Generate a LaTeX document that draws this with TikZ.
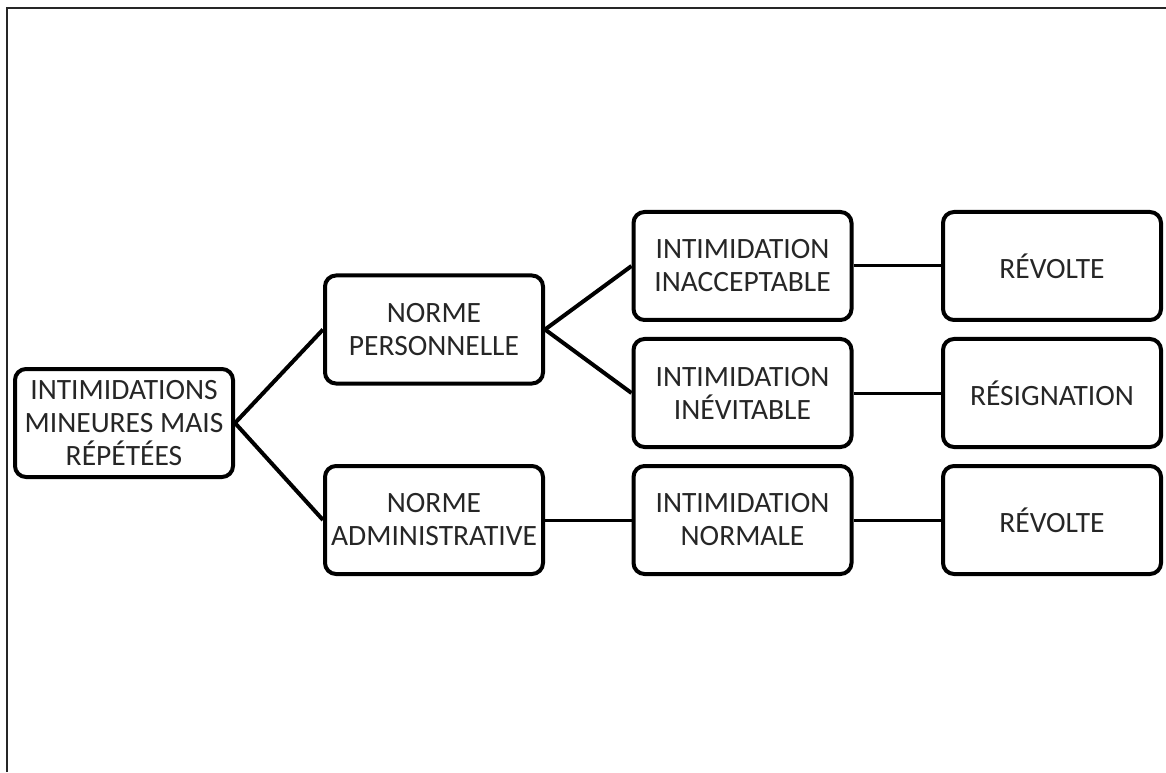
\documentclass[tikz,border=0pt]{standalone}
\usepackage{fontspec}
\setmainfont{Carlito}
\begin{document}
\begin{tikzpicture}[x=1pt,y=1pt,
  box/.style={draw=black, line width=4pt, rounded corners=11pt, minimum width=218pt, minimum height=108pt, inner sep=0pt, align=center, font=\fontsize{29.5}{33}\selectfont, text=black!85},
  thick link/.style={line width=4pt},
  thin link/.style={line width=3pt}]
\useasboundingbox (0,0) rectangle (1166,772);
\fill[white] (0,0) rectangle (1166,772);
\draw[line width=2.5pt, black!85] (7,0) -- (7,764) -- (1166,764);
\node[box] (a) at (124,349) {INTIMIDATIONS\\MINEURES MAIS\\RÉPÉTÉES};
\node[box] (b) at (434,442.5) {NORME\\PERSONNELLE};
\node[box] (c) at (434,252) {NORME\\ADMINISTRATIVE};
\node[box] (d) at (742.5,506) {INTIMIDATION\\INACCEPTABLE};
\node[box] (e) at (742.5,379) {INTIMIDATION\\INÉVITABLE};
\node[box] (f) at (742.5,252) {INTIMIDATION\\NORMALE};
\node[box] (g) at (1052,506) {RÉVOLTE};
\node[box] (h) at (1052,379) {RÉSIGNATION};
\node[box] (i) at (1052,252) {RÉVOLTE};
\draw[thick link] (a.east) -- (b.west);
\draw[thick link] (a.east) -- (c.west);
\draw[thick link] (b.east) -- (d.west);
\draw[thick link] (b.east) -- (e.west);
\draw[thin link] (c.east) -- (f.west);
\draw[thin link] (d.east) -- (g.west);
\draw[thin link] (e.east) -- (h.west);
\draw[thin link] (f.east) -- (i.west);
\end{tikzpicture}
\end{document}
